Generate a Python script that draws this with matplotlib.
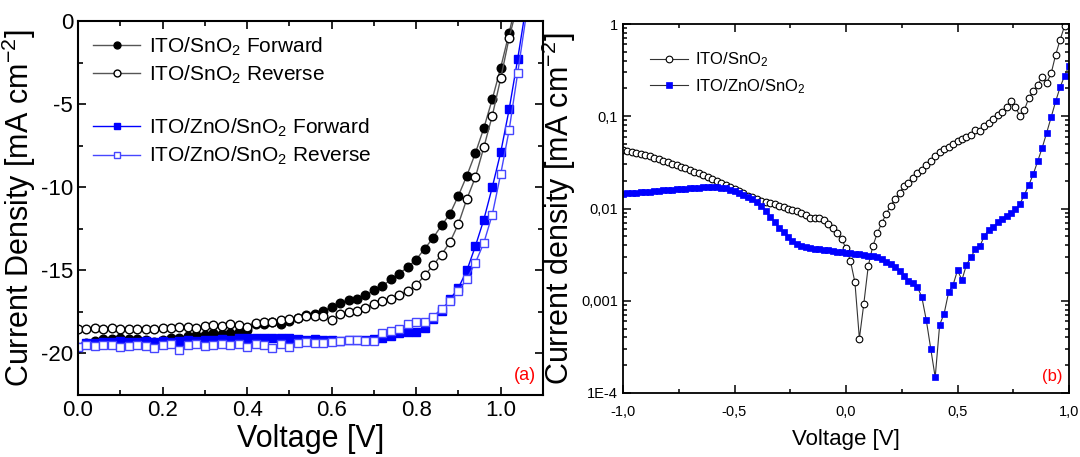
import numpy as np
import matplotlib
matplotlib.use("Agg")
import matplotlib.pyplot as plt
from matplotlib.lines import Line2D
from matplotlib.ticker import MultipleLocator, FixedLocator, FixedFormatter, LogLocator, NullFormatter

plt.rcParams['font.family'] = ['Liberation Sans', 'DejaVu Sans']
plt.rcParams['axes.unicode_minus'] = False
plt.rcParams['mathtext.fontset'] = 'custom'
plt.rcParams['mathtext.rm'] = 'Liberation Sans'
plt.rcParams['mathtext.default'] = 'regular'

# ---- (a) J-V curves, 0.02 V steps ----
v_sno2 = np.round(np.arange(0, 53) * 0.02, 2)
j_sno2_fwd = [-19.7, -19.4, -19.25, -19.15, -19.15, -19.1, -19.15, -19.15, -19.2, -19.3,
              -19.2, -19.05, -19.05, -18.95, -18.9, -18.9, -18.8, -18.85, -18.75, -18.7,
              -18.6, -18.25, -18.2, -18.1, -18.2, -18.05, -17.85, -17.7, -17.6, -17.45,
              -17.2, -16.95, -16.8, -16.7, -16.5, -16.2, -15.95, -15.55, -15.2, -14.8,
              -14.35, -13.7, -13.05, -12.3, -11.6, -10.5, -9.3, -7.95, -6.45, -4.7,
              -2.8, -0.7, 1.5]
j_sno2_rev = [-18.55, -18.5, -18.45, -18.5, -18.45, -18.5, -18.55, -18.5, -18.55, -18.5,
              -18.45, -18.45, -18.4, -18.4, -18.45, -18.35, -18.3, -18.35, -18.25, -18.3,
              -18.4, -18.15, -18.1, -18.1, -18.0, -17.9, -17.85, -17.75, -17.75, -17.75,
              -18.0, -17.65, -17.5, -17.45, -17.25, -17.0, -16.85, -16.7, -16.5, -16.25,
              -15.9, -15.3, -14.7, -14.05, -13.3, -12.2, -10.7, -9.4, -7.6, -5.7,
              -3.45, -1.0, 1.0]

v_zno = np.round(np.arange(0, 54) * 0.02, 2)
j_zno_fwd = [-19.6, -19.4, -19.35, -19.3, -19.3, -19.25, -19.3, -19.3, -19.25, -19.3,
             -19.25, -19.3, -19.25, -19.2, -19.25, -19.2, -19.2, -19.15, -19.2, -19.1,
             -19.1, -19.1, -19.1, -19.05, -19.1, -19.05, -19.15, -19.2, -19.15, -19.2,
             -19.2, -19.25, -19.2, -19.2, -19.2, -19.15, -19.05, -18.95, -18.8, -18.7,
             -18.7, -18.45, -17.95, -17.45, -16.75, -16.05, -15.0, -13.55, -11.95, -10.0,
             -7.9, -5.3, -2.3, 0.9]
j_zno_rev = [-19.6, -19.5, -19.55, -19.5, -19.5, -19.6, -19.55, -19.5, -19.55, -19.65,
             -19.5, -19.45, -19.8, -19.5, -19.45, -19.55, -19.5, -19.45, -19.5, -19.45,
             -19.6, -19.45, -19.5, -19.65, -19.45, -19.6, -19.35, -19.3, -19.4, -19.35,
             -19.3, -19.25, -19.2, -19.2, -19.25, -19.25, -18.8, -18.65, -18.5, -18.25,
             -18.1, -18.1, -17.8, -17.3, -16.85, -16.25, -15.5, -14.55, -13.35, -11.65,
             -9.2, -6.55, -3.15, 0.3]

# ---- (b) dark current, log10 of |J| in mA cm-2, -1..1 V in 0.02 V steps ----
v_dark = np.round(np.linspace(-1, 1, 101), 2)
logj_sno2 = [-1.37, -1.38, -1.39, -1.40, -1.41, -1.42, -1.435, -1.45, -1.465, -1.48,
             -1.50, -1.515, -1.53, -1.545, -1.56, -1.58, -1.60, -1.62, -1.64, -1.66,
             -1.68, -1.70, -1.72, -1.745, -1.77, -1.79, -1.81, -1.835, -1.86, -1.88,
             -1.90, -1.915, -1.93, -1.945, -1.955, -1.97, -1.985, -2.00, -2.015, -2.03,
             -2.05, -2.075, -2.10, -2.10, -2.10, -2.125, -2.17, -2.215, -2.27, -2.33,
             -2.43, -2.57, -2.80, -3.41, -3.03, -2.62, -2.41, -2.27, -2.16, -2.06,
             -1.97, -1.90, -1.83, -1.76, -1.72, -1.67, -1.62, -1.58, -1.53, -1.49,
             -1.43, -1.39, -1.35, -1.33, -1.30, -1.27, -1.25, -1.22, -1.20, -1.15,
             -1.16, -1.11, -1.07, -1.03, -0.99, -0.95, -0.90, -0.83, -0.90, -1.00,
             -0.93, -0.80, -0.73, -0.66, -0.57, -0.64, -0.535, -0.336, -0.173, -0.022,
             0.10]
logj_zno = [-1.840, -1.836, -1.832, -1.828, -1.824, -1.820, -1.816, -1.812, -1.808, -1.804,
            -1.800, -1.796, -1.792, -1.788, -1.784, -1.780, -1.777, -1.774, -1.772, -1.770,
            -1.770, -1.771, -1.774, -1.780, -1.795, -1.81, -1.83, -1.85, -1.875, -1.90,
            -1.93, -1.97, -2.03, -2.09, -2.15, -2.21, -2.26, -2.31, -2.35, -2.38,
            -2.41, -2.42, -2.43, -2.435, -2.44, -2.45, -2.455, -2.46, -2.47, -2.475,
            -2.48, -2.485, -2.49, -2.495, -2.50, -2.51, -2.515, -2.53, -2.55, -2.58,
            -2.60, -2.63, -2.68, -2.73, -2.79, -2.81, -2.85, -2.96, -3.21, -3.52,
            -3.83, -3.26, -3.14, -2.91, -2.83, -2.67, -2.775, -2.61, -2.53, -2.44,
            -2.41, -2.30, -2.23, -2.20, -2.15, -2.11, -2.08, -2.05, -2.01, -1.95,
            -1.85, -1.745, -1.626, -1.485, -1.34, -1.178, -1.01, -0.84, -0.686, -0.564,
            -0.455]

blue = '#0000ff'
light_blue = '#4646ff'

fig = plt.figure(figsize=(10.8, 4.57), dpi=100)
ax1 = fig.add_axes([78 / 1080, 1 - 395 / 457, (543 - 78) / 1080, (395 - 21) / 457])
ax2 = fig.add_axes([623 / 1080, 1 - 393 / 457, (1069 - 623) / 1080, (393 - 24) / 457])

# panel (a)
h1, = ax1.plot(v_sno2, j_sno2_fwd, '-o', color='#555555', lw=1.0, ms=6.2,
               mfc='black', mec='black', label='ITO/SnO$_2$ Forward')
h2, = ax1.plot(v_sno2, j_sno2_rev, '-o', color='#555555', lw=1.0, ms=6.2,
               mfc='white', mec='black', mew=1.0, label='ITO/SnO$_2$ Reverse')
h3, = ax1.plot(v_zno, j_zno_fwd, '-s', color=blue, lw=1.0, ms=5.5,
               mfc=blue, mec=blue, label='ITO/ZnO/SnO$_2$ Forward')
h4, = ax1.plot(v_zno, j_zno_rev, '-s', color=light_blue, lw=1.0, ms=5.5,
               mfc='white', mec=light_blue, mew=1.0, label='ITO/ZnO/SnO$_2$ Reverse')
blank = Line2D([], [], linestyle='none')
ax1.legend([h1, h2, blank, h3, h4],
           [h1.get_label(), h2.get_label(), '', h3.get_label(), h4.get_label()],
           loc='upper left', frameon=False, fontsize=15, handlelength=2.3,
           labelspacing=0.28, borderaxespad=0.3, handletextpad=0.4, markerscale=0.8)

ax1.set_xlim(0, 1.1)
ax1.set_ylim(-22.5, 0)
ax1.xaxis.set_major_locator(MultipleLocator(0.2))
ax1.xaxis.set_minor_locator(MultipleLocator(0.1))
ax1.yaxis.set_major_locator(MultipleLocator(5))
ax1.yaxis.set_minor_locator(MultipleLocator(2.5))
ax1.xaxis.set_major_formatter(plt.FormatStrFormatter('%.1f'))
ax1.yaxis.set_major_formatter(plt.FormatStrFormatter('%d'))
ax1.tick_params(which='both', direction='in', top=True, right=True, width=1.2)
ax1.tick_params(which='major', length=6, labelsize=16)
ax1.tick_params(which='minor', length=3.5)
ax1.set_xlabel('Voltage [V]', fontsize=22, labelpad=2)
ax1.set_ylabel('Current Density [mA cm$^{-2}$]', fontsize=22, labelpad=2)
ax1.text(0.985, 0.03, '(a)', color='red', fontsize=13, ha='right', va='bottom',
         transform=ax1.transAxes)
for s in ax1.spines.values():
    s.set_linewidth(1.5)

# panel (b)
ax2.semilogy(v_dark, 10 ** np.array(logj_sno2), '-o', color='#333333', lw=0.8, ms=4.8,
             mfc='white', mec='black', mew=0.8, label='ITO/SnO$_2$')
ax2.semilogy(v_dark, 10 ** np.array(logj_zno), '-s', color='#333333', lw=0.8, ms=4.8,
             mfc=blue, mec=blue, mew=0.5, label='ITO/ZnO/SnO$_2$')
ax2.legend(loc='upper left', frameon=False, fontsize=12, handlelength=2.3,
           labelspacing=0.45, borderaxespad=1.2, handletextpad=0.4)

ax2.set_xlim(-1, 1)
ax2.set_ylim(1e-4, 1)
x_ticks = [-1.0, -0.5, 0.0, 0.5, 1.0]
x_labels = ['-1,0', '-0,5', '0,0', '0,5', '1,0']
y_ticks = [1e-4, 1e-3, 1e-2, 1e-1, 1]
y_labels = ['1E-4', '0,001', '0,01', '0,1', '1']
ax2.xaxis.set_major_locator(FixedLocator(x_ticks))
ax2.xaxis.set_major_formatter(FixedFormatter(x_labels))
ax2.xaxis.set_minor_locator(MultipleLocator(0.25))
ax2.yaxis.set_major_locator(FixedLocator(y_ticks))
ax2.yaxis.set_major_formatter(FixedFormatter(y_labels))
ax2.yaxis.set_minor_locator(LogLocator(base=10, subs=np.arange(2, 10)))
ax2.yaxis.set_minor_formatter(NullFormatter())
ax2.tick_params(which='both', direction='in', top=True, right=True, width=1.1)
ax2.tick_params(which='major', length=6, labelsize=10.5)
ax2.tick_params(axis='x', which='major', pad=9)
ax2.tick_params(which='minor', length=3)
ax2.set_xlabel('Voltage [V]', fontsize=16, labelpad=7)
ax2.set_ylabel('Current density [mA cm$^{-2}$]', fontsize=22, labelpad=2)
ax2.text(0.985, 0.025, '(b)', color='red', fontsize=12, ha='right', va='bottom',
         transform=ax2.transAxes)
for s in ax2.spines.values():
    s.set_linewidth(1.3)

fig.savefig('out.png', dpi=100)
